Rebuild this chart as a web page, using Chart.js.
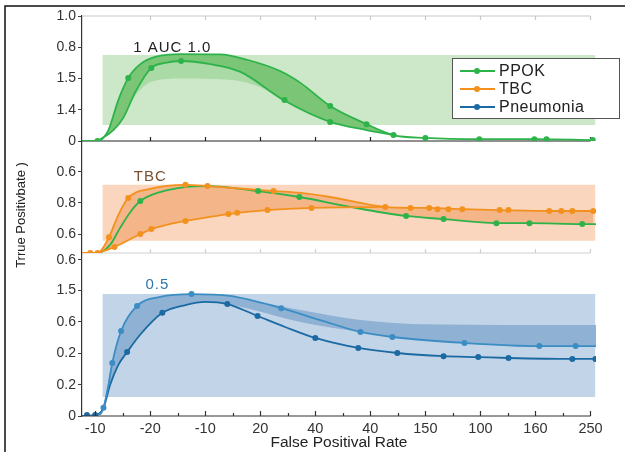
<!DOCTYPE html>
<html>
<head>
<meta charset="utf-8">
<script src="https://cdn.jsdelivr.net/npm/chart.js@4.4.1/dist/chart.umd.min.js"></script>
<style>
  html, body { margin: 0; padding: 0; background: #fff; }
  #wrap { width: 625px; height: 452px; }
</style>
</head>
<body>
<div id="wrap"><canvas id="roc"></canvas></div>
<script>
// x axis: tick labels sit on evenly spaced positions 0..9
const xTickValues = [0, 1, 2, 3, 4, 5, 6, 7, 8, 9];
const xTickLabels = ['-10', '-20', '-10', '20', '40', '40', '150', '100', '160', '250'];

// y tick labels for the three stacked panels (top to bottom)
const ppokTickValues = [0, 1, 2, 3, 4];
const ppokTickLabels = ['0', '1.4', '1.5', '0.8', '1.0'];
const tbcTickValues = [0.61, 1.61, 2.61];
const tbcTickLabels = ['0.6', '0.8', '0.6'];
const pneuTickValues = [0, 1, 2, 3, 4, 4.98];
const pneuTickLabels = ['0', '0.2', '0.2', '0.6', '1.5', '0.6'];

const seriesNames = ['PPOK', 'TBC', 'Pneumonia'];

// panel 1 - PPOK
const ppokBoxX = [0.13, 9.09];
const ppokBoxY = [0.51, 2.75];
const ppokUpper = [[-0.24,0],[0.04,0],[0.24,0.35],[0.42,1.31],[0.6,2.02],[0.82,2.46],[1.09,2.69],[1.55,2.78],[2.27,2.77],[2.76,2.6],[3.36,2.24],[3.73,1.86],[4.27,1.12],[4.93,0.54],[5.42,0.19],[6.0,0.1],[6.98,0.06],[7.98,0.06],[9.04,0.03]];
const ppokUpperDots = [[0.04,0],[0.6,2.02],[4.27,1.12],[4.93,0.54],[5.42,0.19],[6.0,0.1],[6.98,0.06],[7.98,0.06],[8.2,0.06],[9.04,0.03]];
const ppokLower = [[0.04,0],[0.33,0.35],[0.51,0.74],[0.73,1.57],[1.02,2.34],[1.27,2.5],[1.55,2.56],[2.09,2.46],[2.64,2.21],[3.42,1.31],[4.27,0.61],[4.93,0.35],[5.42,0.19]];
const ppokLowerDots = [[1.02,2.34],[1.56,2.56],[3.44,1.31],[4.27,0.61]];
const ppokShade = [[0.04,0],[0.33,0.35],[0.51,0.74],[0.73,1.45],[1.02,1.9],[1.55,2.0],[2.45,1.96],[3.0,1.72],[3.42,1.31],[4.27,0.61],[4.93,0.35],[5.42,0.19]];

// panel 2 - TBC (with the PPOK curve)
const tbcBoxX = [0.13, 9.09];
const tbcBoxY = [0.39, 2.19];
const tbcUpper = [[-0.24,0],[0.04,0],[0.25,0.51],[0.42,1.22],[0.6,1.77],[1.0,2.06],[1.64,2.19],[2.04,2.15],[3.24,1.99],[3.73,1.93],[4.27,1.8],[5.27,1.48],[5.73,1.45],[6.07,1.45],[6.67,1.41],[7.35,1.38],[8.25,1.35],[9.05,1.35]];
const tbcUpperDots = [[-0.09,0],[0.04,0],[0.25,0.51],[0.6,1.77],[1.64,2.19],[2.04,2.15],[3.24,1.99],[5.27,1.48],[5.73,1.45],[6.07,1.45],[6.22,1.41],[6.42,1.41],[6.67,1.41],[7.35,1.38],[7.51,1.38],[8.25,1.35],[8.47,1.35],[8.67,1.35],[9.05,1.35]];
const tbcLower = [[0.04,0],[0.35,0.19],[0.82,0.61],[1.02,0.77],[1.64,1.03],[2.42,1.25],[2.58,1.29],[3.13,1.38],[3.93,1.45],[5.27,1.48]];
const tbcLowerDots = [[0.35,0.19],[0.82,0.61],[1.02,0.77],[1.64,1.03],[2.42,1.25],[2.58,1.29],[3.13,1.38],[3.93,1.45]];
const tbcShade = [[0.04,0],[0.35,0.19],[0.82,0.61],[1.02,0.77],[1.64,1.03],[2.42,1.25],[3.13,1.38],[3.93,1.45],[4.55,1.46],[5.65,1.19],[6.33,1.09],[7.29,0.96],[8.85,0.93],[9.11,0.93]];
const tbcPpok = [[-0.24,0],[0.04,0],[0.27,0.26],[0.45,0.8],[0.64,1.32],[0.82,1.67],[1.18,1.96],[1.64,2.12],[2.04,2.15],[2.96,1.99],[3.71,1.8],[4.64,1.48],[5.65,1.19],[6.33,1.09],[7.29,0.96],[7.89,0.96],[8.85,0.93],[9.11,0.93]];
const tbcPpokDots = [[0.82,1.67],[2.96,1.99],[3.71,1.8],[5.65,1.19],[6.33,1.09],[7.29,0.96],[7.89,0.96],[8.85,0.93]];

// panel 3 - Pneumonia
const pneuBoxX = [0.13, 9.09];
const pneuBoxY = [0.61, 3.89];
const pneuLight = [[-0.24,0],[0.09,0.06],[0.15,0.26],[0.24,0.99],[0.31,1.69],[0.47,2.71],[0.76,3.51],[1.18,3.8],[1.75,3.89],[2.45,3.83],[3.38,3.44],[4.09,3.06],[4.82,2.68],[5.4,2.52],[6.71,2.33],[8.07,2.23],[8.73,2.23],[9.11,2.23]];
const pneuLightDots = [[0.15,0.26],[0.31,1.69],[0.47,2.71],[0.76,3.51],[1.75,3.89],[3.38,3.44],[4.82,2.68],[5.4,2.52],[6.71,2.33],[8.07,2.23],[8.73,2.23]];
const pneuDark = [[-0.24,0],[0.0,0.03],[0.15,0.26],[0.27,0.99],[0.42,1.63],[0.58,2.04],[0.82,2.6],[1.22,3.29],[1.64,3.54],[2.0,3.64],[2.4,3.57],[2.95,3.19],[3.45,2.84],[4.0,2.49],[4.78,2.17],[5.49,2.01],[6.33,1.91],[6.96,1.88],[7.51,1.85],[8.67,1.82],[9.09,1.82]];
const pneuDarkDots = [[-0.15,0.03],[0.0,0.03],[0.58,2.04],[1.22,3.29],[2.4,3.57],[2.95,3.19],[4.0,2.49],[4.78,2.17],[5.49,2.01],[6.33,1.91],[6.96,1.88],[7.51,1.85],[8.67,1.82],[9.09,1.82]];
const pneuShadeTop = [[0.15,0.26],[0.31,1.69],[0.47,2.71],[0.76,3.51],[1.18,3.8],[1.75,3.89],[2.45,3.83],[3.38,3.5],[3.73,3.38],[4.82,3.06],[5.91,2.93],[9.11,2.9]];
const pneuShadeBottom = [[0.15,0.26],[0.27,0.99],[0.42,1.63],[0.58,2.04],[0.82,2.6],[1.22,3.29],[1.64,3.54],[2.0,3.64],[2.4,3.57],[2.95,3.35],[3.73,3.0],[4.82,2.68],[5.4,2.52],[6.71,2.33],[8.07,2.23],[9.11,2.23]];

// text labels inside the panels
const panelNotes = [
  { text: '1 AUC 1.0', x: 1.4, y: 2.98, axis: 'y1', color: '#222' },
  { text: 'TBC', x: 1.0, y: 2.44, axis: 'y2', color: '#7a5030' },
  { text: '0.5', x: 1.13, y: 4.18, axis: 'y3', color: '#2a78b0' },
];

const GREEN = '#2db34a';
const ORANGE = '#f3911f';
const BLUE_LIGHT = '#3b8dc4';
const BLUE = '#1c6aa3';
const seriesColors = [GREEN, ORANGE, BLUE];
const FONT = "'Liberation Sans', Arial, sans-serif";

function box(xs, ys, axis, color) {
  return {
    data: [[xs[0], ys[1]], [xs[1], ys[1]]],
    yAxisID: axis,
    fill: { value: ys[0] },
    backgroundColor: color,
    borderWidth: 0,
    pointRadius: 0,
    tension: 0,
    order: 30,
  };
}

function curve(data, axis, color, fill, fillColor) {
  return {
    data: data,
    yAxisID: axis,
    borderColor: color,
    borderWidth: color === 'transparent' ? 0 : 1.8,
    pointRadius: 0,
    cubicInterpolationMode: 'monotone',
    fill: fill || false,
    backgroundColor: fillColor || 'transparent',
    order: 10,
  };
}

function dots(data, axis, color) {
  return {
    data: data,
    yAxisID: axis,
    showLine: false,
    pointRadius: 3,
    pointBackgroundColor: color,
    pointBorderWidth: 0,
    order: 0,
  };
}

const datasets = [
  box(ppokBoxX, ppokBoxY, 'y1', 'rgb(205,232,200)'),
  box(tbcBoxX, tbcBoxY, 'y2', 'rgb(249,214,189)'),
  box(pneuBoxX, pneuBoxY, 'y3', 'rgb(194,212,231)'),

  curve(ppokUpper, 'y1', GREEN, '+1', 'rgb(122,197,118)'),
  curve(ppokLower, 'y1', GREEN, '+1', 'rgb(170,218,165)'),
  curve(ppokShade, 'y1', 'transparent'),

  curve(tbcUpper, 'y2', ORANGE, '+1', 'rgb(244,182,137)'),
  curve(tbcShade, 'y2', 'transparent'),
  curve(tbcLower, 'y2', ORANGE),
  curve(tbcPpok, 'y2', GREEN),

  curve(pneuShadeTop, 'y3', 'transparent', '+1', 'rgb(142,177,212)'),
  curve(pneuShadeBottom, 'y3', 'transparent'),
  curve(pneuLight, 'y3', BLUE_LIGHT),
  curve(pneuDark, 'y3', BLUE),

  dots(ppokUpperDots, 'y1', GREEN),
  dots(ppokLowerDots, 'y1', GREEN),
  dots(tbcUpperDots, 'y2', ORANGE),
  dots(tbcLowerDots, 'y2', ORANGE),
  dots(tbcPpokDots, 'y2', GREEN),
  dots(pneuLightDots, 'y3', BLUE_LIGHT),
  dots(pneuDarkDots, 'y3', BLUE),
];

function yAxis(min, max, weight, stackWeight, values, labels) {
  return {
    type: 'linear',
    position: 'left',
    stack: 'panels',
    stackWeight: stackWeight,
    weight: weight,
    min: min,
    max: max,
    afterBuildTicks: (scale) => { scale.ticks = values.map(v => ({ value: v })); },
    afterFit: (scale) => { scale.width = 82; },
    ticks: {
      callback: (v, i) => labels[i],
      color: '#333',
      font: { family: FONT, size: 14 },
      padding: 2,
      autoSkip: false,
    },
    grid: { display: true, drawOnChartArea: false, drawTicks: true, tickLength: 4, color: '#444' },
    border: { display: true, color: '#333', width: 1.2 },
  };
}

// panel separators, bottom axis, notes, legend, frame
const decorations = {
  id: 'decorations',
  beforeDatasetsDraw(chart) {
    const { ctx, chartArea, scales } = chart;
    const x = scales.x;
    const xEnd = x.getPixelForValue(9);
    const seps = [
      { y: scales.y1.top, color: '#c8c8c8', dir: 1 },
      { y: scales.y1.bottom, color: '#222', dir: -1 },
      { y: scales.y2.bottom, color: '#d0d0d0', dir: -1 },
    ];
    ctx.save();
    seps.forEach(s => {
      ctx.strokeStyle = s.color;
      ctx.lineWidth = 1.2;
      ctx.beginPath();
      ctx.moveTo(chartArea.left, s.y);
      ctx.lineTo(xEnd, s.y);
      for (let v = 1; v <= 9; v++) {
        const px = Math.round(x.getPixelForValue(v)) + 0.5;
        ctx.moveTo(px, s.y);
        ctx.lineTo(px, s.y + s.dir * 4);
      }
      ctx.stroke();
    });
    ctx.restore();
  },
  afterDatasetsDraw(chart) {
    const { ctx, chartArea, scales } = chart;
    const x = scales.x;
    const xEnd = x.getPixelForValue(9);
    const yb = scales.y3.bottom;
    ctx.save();
    // bottom axis with minor ticks
    ctx.strokeStyle = '#333';
    ctx.lineWidth = 1.2;
    ctx.beginPath();
    ctx.moveTo(chartArea.left, yb);
    ctx.lineTo(xEnd, yb);
    for (let v = 0; v <= 9; v += 0.5) {
      const px = Math.round(x.getPixelForValue(v)) + 0.5;
      ctx.moveTo(px, yb);
      ctx.lineTo(px, yb - (v % 1 === 0 ? 5 : 3));
    }
    ctx.stroke();

    // notes inside panels
    ctx.font = '15px ' + FONT;
    ctx.letterSpacing = '1px';
    ctx.textAlign = 'center';
    ctx.textBaseline = 'middle';
    panelNotes.forEach(n => {
      ctx.fillStyle = n.color;
      ctx.fillText(n.text, x.getPixelForValue(n.x), scales[n.axis].getPixelForValue(n.y));
    });
    ctx.letterSpacing = '0px';

    // y title
    ctx.save();
    ctx.translate(21, 215);
    ctx.rotate(-Math.PI / 2);
    ctx.fillStyle = '#222';
    ctx.font = '13px ' + FONT;
    ctx.fillText('Trrue Positivbate )', 0, 0);
    ctx.restore();

    // legend
    const bx = 452, by = 58, bw = 167, bh = 60;
    ctx.fillStyle = '#fff';
    ctx.fillRect(bx, by, bw, bh);
    ctx.strokeStyle = '#555';
    ctx.lineWidth = 1;
    ctx.strokeRect(bx + 0.5, by + 0.5, bw, bh);
    ctx.font = '16px ' + FONT;
    ctx.letterSpacing = '0.5px';
    ctx.textAlign = 'left';
    seriesNames.forEach((name, i) => {
      const ly = by + 13 + i * 18;
      ctx.strokeStyle = seriesColors[i];
      ctx.lineWidth = 2;
      ctx.beginPath();
      ctx.moveTo(460, ly);
      ctx.lineTo(495, ly);
      ctx.stroke();
      ctx.fillStyle = seriesColors[i];
      ctx.beginPath();
      ctx.arc(477, ly, 3, 0, Math.PI * 2);
      ctx.fill();
      ctx.fillStyle = '#222';
      ctx.fillText(name, 499, ly + 1);
    });
    ctx.letterSpacing = '0px';

    // outer frame (top and left edges only)
    ctx.strokeStyle = '#111';
    ctx.lineWidth = 1.5;
    ctx.beginPath();
    ctx.moveTo(625, 6);
    ctx.lineTo(5, 6);
    ctx.lineTo(5, 452);
    ctx.stroke();
    ctx.restore();
  },
};

new Chart(document.getElementById('roc'), {
  type: 'line',
  data: { datasets: datasets },
  options: {
    responsive: true,
    maintainAspectRatio: false,
    animation: false,
    layout: { padding: { top: 16, right: 29, left: 0, bottom: 0 } },
    plugins: {
      legend: { display: false },
      tooltip: { enabled: false },
      filler: { drawTime: 'beforeDatasetsDraw' },
    },
    scales: {
      x: {
        type: 'linear',
        min: -0.24,
        max: 9.1,
        afterBuildTicks: (scale) => { scale.ticks = xTickValues.map(v => ({ value: v })); },
        afterFit: (scale) => { scale.height = 36; },
        ticks: {
          callback: (v, i) => xTickLabels[i],
          color: '#333',
          font: { family: FONT, size: 14.5 },
          padding: 4,
          maxRotation: 0,
          autoSkip: false,
        },
        grid: { display: false, drawTicks: false },
        border: { display: false },
        title: {
          display: true,
          text: 'False Positival Rate',
          color: '#222',
          font: { family: FONT, size: 15.5 },
          padding: { top: 0, bottom: 0 },
        },
      },
      y1: yAxis(0, 4, 3, 125, ppokTickValues, ppokTickLabels),
      y2: yAxis(0, 3.6, 2, 112, tbcTickValues, tbcTickLabels),
      y3: yAxis(0, 5.2, 1, 163, pneuTickValues, pneuTickLabels),
    },
  },
  plugins: [decorations],
});
</script>
</body>
</html>
